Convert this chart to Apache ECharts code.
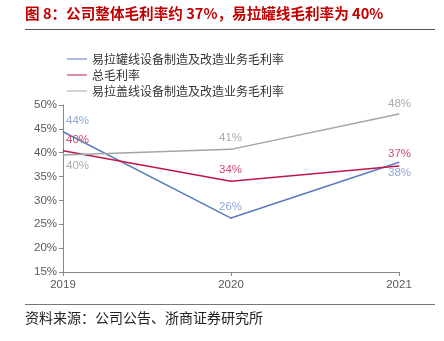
<!DOCTYPE html>
<html><head><meta charset="utf-8">
<script src="https://cdn.jsdelivr.net/npm/echarts@6/dist/echarts.min.js"></script>
<style>html,body{margin:0;padding:0;background:#fff}#c{width:444px;height:341px}</style>
</head><body><div id="c"></div>
<script>
const categories = ['2019', '2020', '2021'];
const seriesNames = ['易拉罐线设备制造及改造业务毛利率', '总毛利率', '易拉盖线设备制造及改造业务毛利率'];
const canLine = [44.4, 26.3, 38.0];
const totalMargin = [40.4, 34.0, 37.2];
const lidLine = [39.5, 40.7, 48.1];
const canLabels = ['44%', '26%', '38%'];
const totalLabels = ['40%', '34%', '37%'];
const lidLabels = ['40%', '41%', '48%'];
const yTicks = [15, 20, 25, 30, 35, 40, 45, 50];

const font = '"Liberation Sans", Arial, sans-serif';
const cjk = '"Noto Sans CJK SC", sans-serif';

function mk(vals, labels, positions) {
  return vals.map((v, i) => ({
    value: v,
    label: { show: true, formatter: labels[i], position: positions[i] }
  }));
}

function line(name, vals, labels, pos, color, labelColor) {
  return {
    name, type: 'line', symbol: 'circle', symbolSize: 1, showSymbol: true,
    lineStyle: { color, width: 1.5 }, itemStyle: { color },
    label: { show: true, color: labelColor, fontFamily: font, fontSize: 11.5, align: 'center', verticalAlign: 'middle' },
    labelLayout: { hideOverlap: false },
    emphasis: { disabled: true },
    data: mk(vals, labels, pos)
  };
}

const chart = echarts.init(document.getElementById('c'));
chart.setOption({
  animation: false,
  graphic: [
    { type: 'text', left: 25, top: 6, style: { text: '图 8：公司整体毛利率约 37%，易拉罐线毛利率为 40%', fill: '#c00000', font: 'bold 14.6px ' + cjk } },
    { type: 'line', shape: { x1: 25, y1: 29.5, x2: 435, y2: 29.5 }, style: { stroke: '#555', lineWidth: 1 } },
    { type: 'line', shape: { x1: 25, y1: 304.5, x2: 435, y2: 304.5 }, style: { stroke: '#777', lineWidth: 1 } },
    { type: 'text', left: 25, top: 311, style: { text: '资料来源：公司公告、浙商证券研究所', fill: '#222', font: '14px ' + cjk } }
  ],
  legend: {
    orient: 'vertical', left: 67, top: 53, padding: 0, itemGap: 4, itemWidth: 20, itemHeight: 10,
    icon: 'path://M0,4.5 L20,4.5 L20,5.5 L0,5.5 Z',
    textStyle: { fontFamily: cjk, fontSize: 12, color: '#333' },
    data: seriesNames
  },
  grid: { left: 63, right: 45, top: 105, bottom: 69 },
  xAxis: {
    type: 'category', data: categories, boundaryGap: false,
    axisLine: { lineStyle: { color: '#888' } },
    axisTick: { show: true, alignWithLabel: true, length: 4, lineStyle: { color: '#888' } },
    axisLabel: { color: '#595959', fontFamily: font, fontSize: 11.5, margin: 7 }
  },
  yAxis: {
    type: 'value', min: 15, max: 50, interval: 5,
    axisLine: { show: true, lineStyle: { color: '#888' } },
    axisTick: { show: true, length: 4, lineStyle: { color: '#888' } },
    splitLine: { show: false },
    axisLabel: { color: '#595959', fontFamily: font, fontSize: 11.5, margin: 6, formatter: v => v + '%' }
  },
  series: [
    line(seriesNames[0], canLine, canLabels, [[15, -10], [0, -11], [1, 11]], '#5b7bc0', '#8fa9d6'),
    line(seriesNames[1], totalMargin, totalLabels, [[15, -10], [0, -11], [1, -12]], '#c0174a', '#d04a6e'),
    line(seriesNames[2], lidLine, lidLabels, [[15, 11], [0, -11], [1, -10]], '#a5a5a5', '#aaaaaa')
  ]
});
</script></body></html>
